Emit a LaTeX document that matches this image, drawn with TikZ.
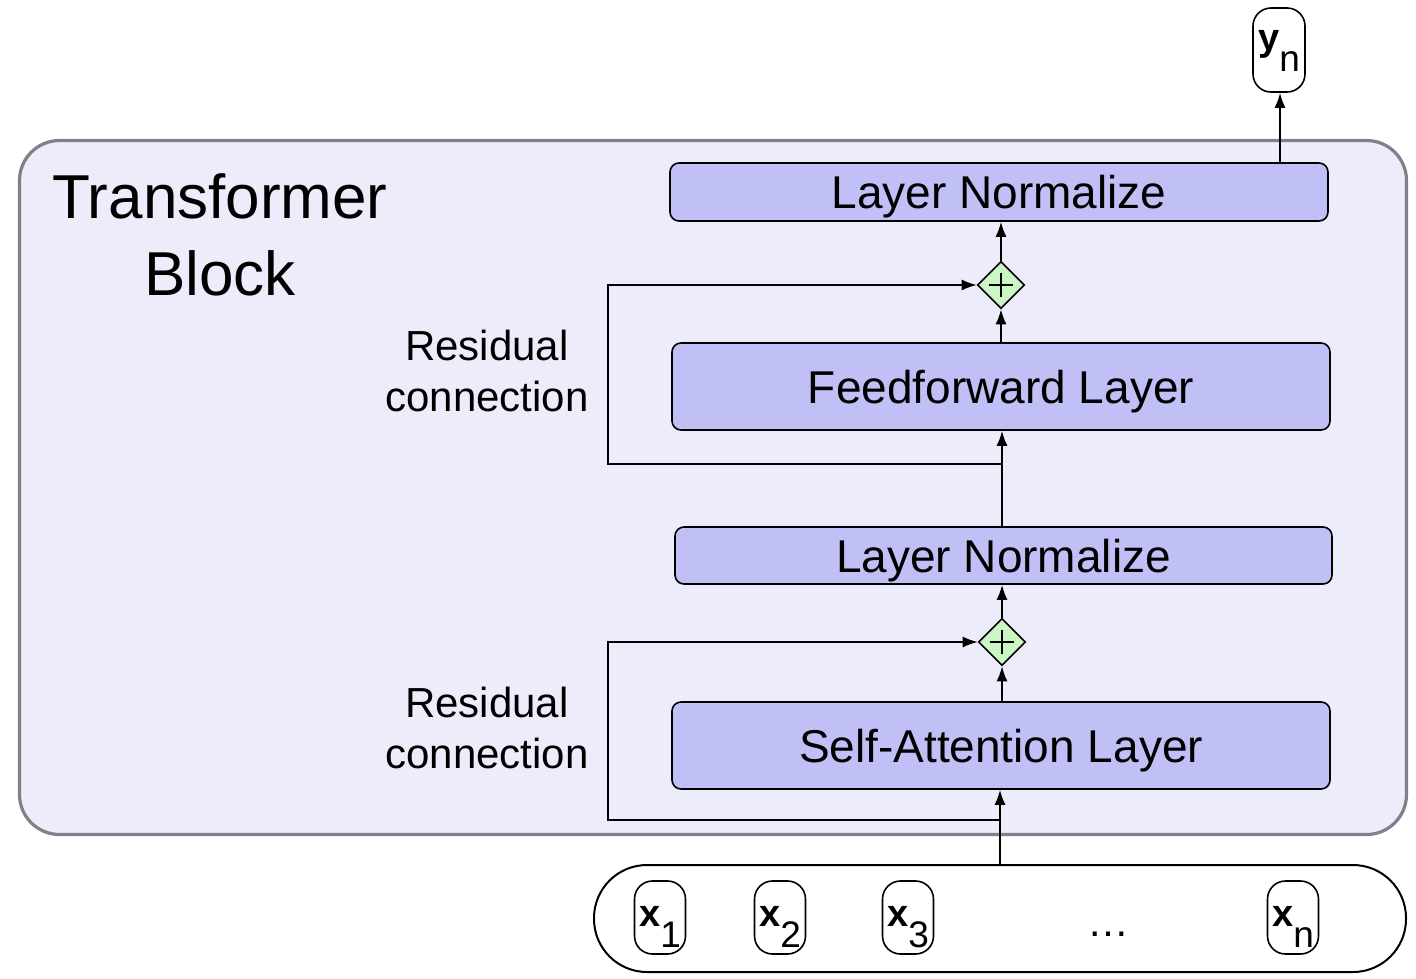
\documentclass[tikz,border=0pt]{standalone}
\usepackage{fontspec}
\setmainfont{Liberation Sans}
\usetikzlibrary{arrows.meta,shapes.geometric}
\definecolor{blockbg}{RGB}{236,236,250}
\definecolor{blockedge}{RGB}{128,128,138}
\definecolor{layerfill}{RGB}{192,192,246}
\definecolor{plusfill}{RGB}{204,246,196}
\newcommand{\tokentext}[2]{\fontsize{38}{40}\selectfont\bfseries #1\fontsize{37}{40}\mdseries\selectfont\raisebox{-21pt}{#2}}
\begin{document}
\begin{tikzpicture}[x=1pt,y=-1pt,
  arr/.style={-{Latex[length=15pt,width=11pt]}, line width=1.8pt},
  resid/.style={-{Latex[length=15pt,width=11pt]}, line width=1.6pt},
  layer/.style={draw, line width=1.6pt, fill=layerfill, rounded corners=9pt, inner sep=0pt,
    font=\fontsize{46}{50}\selectfont, text height=33pt, text depth=0pt},
  plus/.style={diamond, draw, line width=1.6pt, fill=plusfill, minimum width=47pt, minimum height=47pt, inner sep=0pt},
  plussign/.style={line width=2.8pt},
  tok/.style={draw, line width=1.6pt, rounded corners=18pt, minimum width=51pt, minimum height=73pt,
    inner sep=0pt, fill=white, text height=30pt, text depth=13pt},
  lbl/.style={font=\fontsize{42}{52}\selectfont, anchor=base},
  ttl/.style={font=\fontsize{62}{77}\selectfont, anchor=base}]
\useasboundingbox (0,0) rectangle (1416,978);

% transformer block
\node[draw=blockedge, line width=3.2pt, fill=blockbg, rounded corners=40pt,
  minimum width=1387pt, minimum height=694pt, inner sep=0pt] (block) at (713,487.5) {};
\node[ttl] (title1) at (220,218) {Transformer};
\node[ttl] (title2) at (220,295) {Block};

% layers
\node[layer, minimum width=658pt, minimum height=58pt] (ln1) at (999,192) {Layer Normalize};
\node[plus] (plus1) at (1001,285) {};
\node[layer, minimum width=658pt, minimum height=87pt] (ff) at (1001,386.5) {Feedforward Layer};
\node[layer, minimum width=657pt, minimum height=57pt] (ln2) at (1003.5,555.5) {Layer Normalize};
\node[plus] (plus2) at (1002,642) {};
\node[layer, minimum width=658pt, minimum height=87pt] (sa) at (1001,745.5) {Self-Attention Layer};

% plus signs
\draw[plussign] ([xshift=-12pt]plus1.center) -- ([xshift=12pt]plus1.center)
  ([yshift=-12pt]plus1.center) -- ([yshift=12pt]plus1.center);
\draw[plussign] ([xshift=-12pt]plus2.center) -- ([xshift=12pt]plus2.center)
  ([yshift=-12pt]plus2.center) -- ([yshift=12pt]plus2.center);

% residual labels
\node[lbl] (res1a) at (487,360) {Residual};
\node[lbl] (res1b) at (487,411) {connection};
\node[lbl] (res2a) at (487,717) {Residual};
\node[lbl] (res2b) at (487,768) {connection};

% input row
\node[draw, line width=2pt, fill=white, rounded corners=53pt, minimum width=812pt,
  minimum height=107pt, inner sep=0pt] (input) at (1000,918.5) {};
\node[tok] (x1) at (660,917.5) {\tokentext{x}{1}};
\node[tok] (x2) at (780,917.5) {\tokentext{x}{2}};
\node[tok] (x3) at (908,917.5) {\tokentext{x}{3}};
\node[tok] (xn) at (1293,917.5) {\tokentext{x}{n}};
\node[font=\fontsize{42}{44}\selectfont, anchor=base] (dots) at (1108,936) {…};

% output
\node[tok, minimum width=52pt, minimum height=84pt, text height=20pt, text depth=20pt] (yn) at (1279,50) {\tokentext{y}{n}};

% connectors
\coordinate (in1) at (1000,865);
\coordinate (br1) at (1000,820);
\coordinate (bl1) at (608,820);
\coordinate (tl1) at (608,642);
\draw[arr] (in1) -- (in1 |- sa.south);
\draw[resid] (br1) -- (bl1) -- (tl1) -- (plus2.west);
\draw[arr] (plus2.south |- sa.north) -- (plus2.south);
\draw[arr] (plus2.north) -- (plus2.north |- ln2.south);

\coordinate (lnt) at (1002,527);
\coordinate (br2) at (1002,464);
\coordinate (bl2) at (608,464);
\coordinate (tl2) at (608,285);
\draw[arr] (lnt) -- (lnt |- ff.south);
\draw[resid] (br2) -- (bl2) -- (tl2) -- (plus1.west);
\draw[arr] (plus1.south |- ff.north) -- (plus1.south);
\draw[arr] (plus1.north) -- (plus1.north |- ln1.south);

\coordinate (out) at (1280,163);
\draw[arr] (out) -- (out |- yn.south);
\end{tikzpicture}
\end{document}
